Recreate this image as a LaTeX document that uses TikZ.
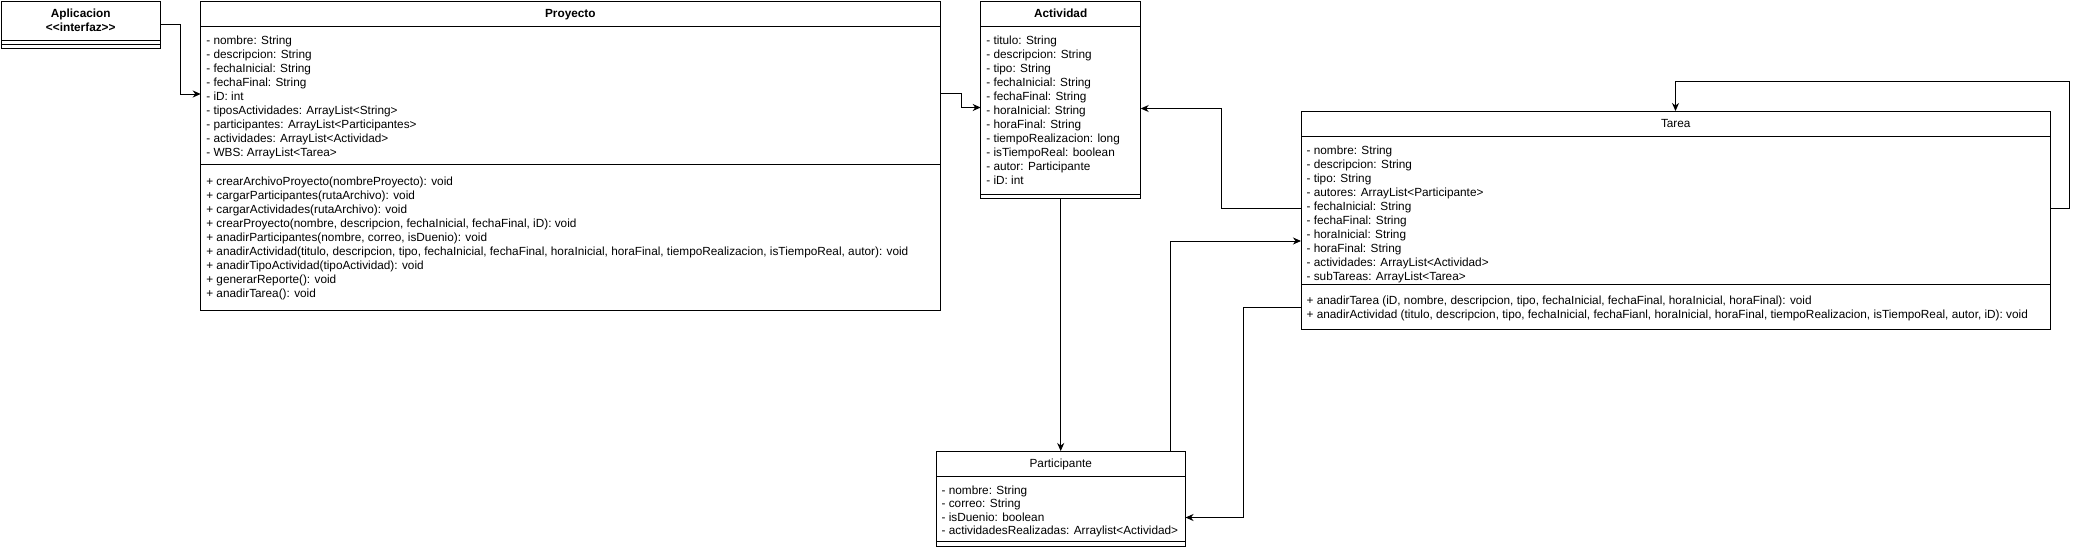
\documentclass[tikz,border=0pt]{standalone}
\usepackage{fontspec}
\setmainfont{Liberation Sans}
\usetikzlibrary{arrows.meta,calc}
\begin{document}
\begin{tikzpicture}[x=1pt,y=-1pt,
  box/.style={draw, line width=1pt, inner sep=0pt, outer sep=0pt, anchor=north west, fill=white},
  txt/.style={inner sep=0pt, outer sep=0pt, anchor=north west, align=left, font=\fontsize{11.8}{14}\selectfont},
  ttl/.style={inner sep=0pt, outer sep=0pt, anchor=north, align=center, font=\fontsize{11.8}{13.7}\selectfont\bfseries},
  ttlr/.style={ttl, font=\fontsize{11.8}{13.7}\selectfont},
  arr/.style={line width=1pt, -{Stealth[length=8pt,width=7pt,inset=2.5pt]}},
  ln/.style={line width=1pt}]
\useasboundingbox (0,0) rectangle (2081,549);

% ---------------- Aplicacion
\node[box, minimum width=159.5pt, minimum height=47pt] (apl) at (1,1) {};
\draw[ln] (apl.west |- 0,40.5) -- (apl.east |- 0,40.5);
\draw[ln] (apl.west |- 0,44) -- (apl.east |- 0,44);
\node[ttl] (aplT) at (apl.north |- 0,8.2) {\strut Aplicacion\\<\kern0pt<interfaz>\kern0pt>};

% ---------------- Proyecto
\node[box, minimum width=739.3pt, minimum height=309pt] (proy) at (200.7,1) {};
\draw[ln] (proy.west |- 0,26.7) -- (proy.east |- 0,26.7);
\draw[ln] (proy.west |- 0,164) -- (proy.east |- 0,164);
\node[ttl] (proyT) at (proy.north |- 0,8.2) {\strut Proyecto};
\node[txt] (proyA) at (206.3,34.2) {\strut - nombre: String\\
- descripcion: String\\
- fechaInicial: String\\
- fechaFinal: String\\
- iD: int\\
- tiposActividades: ArrayList<String>\\
- participantes: ArrayList<Participantes>\\
- actividades: ArrayList<Actividad>\\
- WBS: ArrayList<Tarea>};
\node[txt] (proyM) at (206.3,175.9) {\strut + crearArchivoProyecto(nombreProyecto): void\\
+ cargarParticipantes(rutaArchivo): void\\
+ cargarActividades(rutaArchivo): void\\
+ crearProyecto(nombre, descripcion, fechaInicial, fechaFinal, iD): void\\
+ anadirParticipantes(nombre, correo, isDuenio): void\\
+ anadirActividad(titulo, descripcion, tipo, fechaInicial, fechaFinal, horaInicial, horaFinal, tiempoRealizacion, isTiempoReal, autor): void\\
+ anadirTipoActividad(tipoActividad): void\\
+ generarReporte(): void\\
+ anadirTarea(): void};

% ---------------- Actividad
\node[box, minimum width=160pt, minimum height=197.3pt] (act) at (980.7,1) {};
\draw[ln] (act.west |- 0,26.7) -- (act.east |- 0,26.7);
\draw[ln] (act.west |- 0,194) -- (act.east |- 0,194);
\node[ttl] (actT) at (act.north |- 0,8.2) {\strut Actividad};
\node[txt] (actA) at (986.3,34.2) {\strut - titulo: String\\
- descripcion: String\\
- tipo: String\\
- fechaInicial: String\\
- fechaFinal: String\\
- horaInicial: String\\
- horaFinal: String\\
- tiempoRealizacion: long\\
- isTiempoReal: boolean\\
- autor: Participante\\
- iD: int};

% ---------------- Tarea
\node[box, minimum width=749.5pt, minimum height=218pt] (tarea) at (1301,111) {};
\draw[ln] (tarea.west |- 0,136) -- (tarea.east |- 0,136);
\draw[ln] (tarea.west |- 0,284) -- (tarea.east |- 0,284);
\node[ttlr] (tareaT) at (tarea.north |- 0,117.7) {\strut Tarea};
\node[txt] (tareaA) at (1306.6,144.7) {\strut - nombre: String\\
- descripcion: String\\
- tipo: String\\
- autores: ArrayList<Participante>\\
- fechaInicial: String\\
- fechaFinal: String\\
- horaInicial: String\\
- horaFinal: String\\
- actividades: ArrayList<Actividad>\\
- subTareas: ArrayList<Tarea>};
\node[txt] (tareaM) at (1306.6,294.7) {\strut + anadirTarea (iD, nombre, descripcion, tipo, fechaInicial, fechaFinal, horaInicial, horaFinal): void\\
+ anadirActividad (titulo, descripcion, tipo, fechaInicial, fechaFianl, horaInicial, horaFinal, tiempoRealizacion, isTiempoReal, autor, iD): void};

% ---------------- Participante
\node[box, minimum width=249.5pt, minimum height=95pt] (part) at (936,451) {};
\draw[ln] (part.west |- 0,476) -- (part.east |- 0,476);
\draw[ln] (part.west |- 0,541) -- (part.east |- 0,541);
\node[ttlr] (partT) at (part.north |- 0,458.2) {\strut Participante};
\node[txt, font=\fontsize{11.8}{13.5}\selectfont] (partA) at (941.6,484.7) {\strut - nombre: String\\
- correo: String\\
- isDuenio: boolean\\
- actividadesRealizadas: Arraylist<Actividad>};

% ---------------- Connectors
\draw[arr] (apl.east) -- ++(20,0) |- (proy.west |- 0,94);
\draw[arr] (proy.east |- 0,93) -- ++(21,0) |- (act.west |- 0,107.5);
\draw[arr] (tarea.west |- 0,208) -- ++(-80,0) |- (act.east |- 0,108.5);
\draw[arr] (act.south) -- (act.south |- part.north);
\draw[arr] (part.north -| 1170,0) |- (tarea.west |- 0,241);
\draw[arr] (tarea.west |- 0,307.5) -- ++(-58,0) |- (part.east |- 0,517.5);
\draw[arr] (tarea.east |- 0,208) -| (2069.5,81) -| (tarea.north -| 1675.5,0);
\end{tikzpicture}
\end{document}
